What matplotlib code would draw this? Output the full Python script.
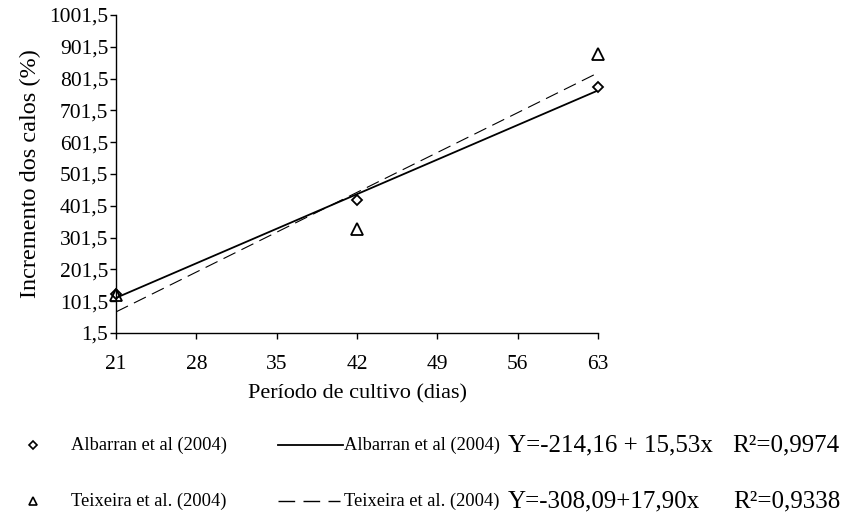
import numpy as np
import matplotlib.pyplot as plt
from matplotlib.lines import Line2D

plt.rcParams['font.family'] = ['Liberation Serif', 'DejaVu Serif']

# observed data
dias = [21, 42, 63]
albarran = [124, 420, 775]
teixeira = [120, 328, 879]

# regression coefficients (intercept, slope)
alb_coef = (-214.16, 15.53)
tei_coef = (-308.09, 17.90)

yticks = [1.5, 101.5, 201.5, 301.5, 401.5, 501.5, 601.5, 701.5, 801.5, 901.5, 1001.5]
xticks = [21, 28, 35, 42, 49, 56, 63]

fig = plt.figure(figsize=(8.45, 5.15), dpi=100)
ax = fig.add_axes([116/845, 1 - 333/515, (598-116)/845, (333-15)/515])

xs = np.array([21, 63])
ax.plot(xs, alb_coef[0] + alb_coef[1]*xs, color='black', lw=1.3)
ax.plot(xs, tei_coef[0] + tei_coef[1]*xs, color='black', lw=0.8, dashes=(12, 6))
ax.plot(dias, albarran, 'D', ms=5.5, mfc='white', mec='black', mew=1.3, clip_on=False)
ax.plot(dias, teixeira, '^', ms=8, mfc='none', mec='black', mew=1.3, clip_on=False)

ax.set_xlim(21, 63)
ax.set_ylim(1.5, 1001.5)
ax.set_xticks(xticks)
ax.set_yticks(yticks)
ax.set_yticklabels([f"{v:.1f}".replace('.', ',') for v in yticks])
ax.tick_params(labelsize=15.5, direction='out', length=4.5, width=1)
ax.tick_params(axis='y', pad=1)
ax.tick_params(axis='x', pad=11)
for s in ['top', 'right']:
    ax.spines[s].set_visible(False)
ax.spines['left'].set_linewidth(1)
ax.spines['bottom'].set_linewidth(1)
ax.set_xlabel("Período de cultivo (dias)", fontsize=16, labelpad=8)
ax.set_ylabel("Incremento dos calos (%)", fontsize=17.5, labelpad=6)

# custom legend below the plot
rows = [
    ('D', 4.5, 'solid', "Albarran et al (2004)", "Y=-214,16 + 15,53x", "R²=0,9974", 732, 445),
    ('^', 6, 'dashed', "Teixeira et al. (2004)", "Y=-308,09+17,90x", "R²=0,9338", 733, 501),
]
for mk, ms, ls, name, eq, r2, r2x, ypx in rows:
    yf = 1 - ypx/515
    fig.add_artist(Line2D([33/845], [yf], marker=mk, ms=ms, mfc='white', mec='black', mew=1.2, ls='none'))
    fig.text(71/845, yf, name, fontsize=13.3, va='center')
    if ls == 'solid':
        fig.add_artist(Line2D([278/845, 343/845], [yf, yf], color='black', lw=1.3))
    else:
        fig.add_artist(Line2D([278/845, 340/845], [yf, yf], color='black', lw=1, dashes=(12, 6)))
    fig.text(344/845, yf, name, fontsize=13.3, va='center')
    fig.text(508/845, yf, eq, fontsize=18, va='center')
    fig.text(r2x/845, yf, r2, fontsize=18, va='center')

fig.savefig("out.png", dpi=100)
